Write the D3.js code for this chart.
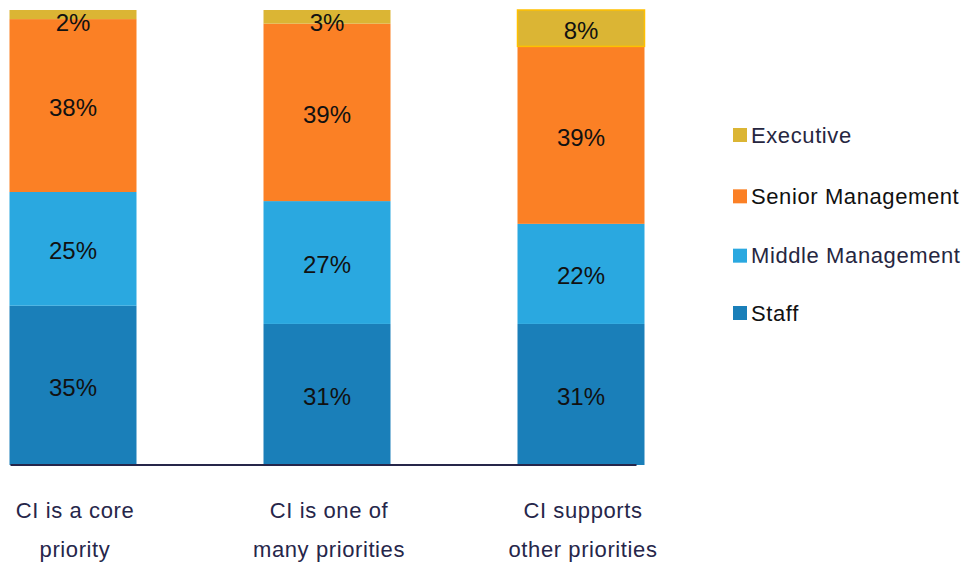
<!DOCTYPE html>
<html>
<head>
<meta charset="utf-8">
<script src="https://cdn.jsdelivr.net/npm/d3@7"></script>
<style>
  html, body { margin: 0; padding: 0; background: #ffffff; }
  svg { display: block; }
  text { font-family: Arial, "Liberation Sans", sans-serif; }
</style>
</head>
<body>
<svg id="chart" width="974" height="565"></svg>
<script>
// ---- data ----
const categories = ["CI is a core priority", "CI is one of many priorities", "CI supports other priorities"];
const categoryLines = [["CI is a core", "priority"], ["CI is one of", "many priorities"], ["CI supports", "other priorities"]];
const seriesNames = ["Staff", "Middle Management", "Senior Management", "Executive"];
const staff = [35, 31, 31];
const middleManagement = [25, 27, 22];
const seniorManagement = [38, 39, 39];
const executive = [2, 3, 8];
const legendOrder = ["Executive", "Senior Management", "Middle Management", "Staff"];

const colors = {
  "Staff": "#1a7fb9",
  "Middle Management": "#2aa8e0",
  "Senior Management": "#fb8025",
  "Executive": "#dbb534"
};
const legendTextColors = {
  "Executive": "#26263f",
  "Senior Management": "#111111",
  "Middle Management": "#26263f",
  "Staff": "#111111"
};

const seriesValues = [staff, middleManagement, seniorManagement, executive];
const rows = categories.map((c, i) => {
  const r = { category: c };
  seriesNames.forEach((s, k) => { r[s] = seriesValues[k][i]; });
  return r;
});

const svg = d3.select("#chart");

const x = d3.scaleBand()
  .domain(categories)
  .range([9.5, 9.5 + 2.5 * 254])
  .paddingInner(0.5)
  .paddingOuter(0);

const y = d3.scaleLinear().domain([0, 100]).range([465, 10]);

const stack = d3.stack().keys(seriesNames);
const stacked = stack(rows);

const g = svg.append("g");

stacked.forEach(layer => {
  const name = layer.key;
  g.selectAll(null)
    .data(layer)
    .enter()
    .append("rect")
    .attr("x", d => x(d.data.category))
    .attr("width", x.bandwidth())
    .attr("y", d => y(d[1]))
    .attr("height", d => y(d[0]) - y(d[1]))
    .attr("fill", colors[name])
    .attr("stroke", (d, i) => (name === "Executive" && i === 2) ? "#ffc000" : "none")
    .attr("stroke-width", 1.5);

  g.selectAll(null)
    .data(layer)
    .enter()
    .append("text")
    .attr("x", d => x(d.data.category) + x.bandwidth() / 2)
    .attr("y", d => Math.max((y(d[0]) + y(d[1])) / 2 + 2, y(d[1]) + 13))
    .attr("dy", "0.35em")
    .attr("text-anchor", "middle")
    .attr("font-size", 24)
    .attr("fill", "#111111")
    .text(d => (d[1] - d[0]) + "%");
});

// baseline
g.append("line")
  .attr("x1", x(categories[0]) + 1)
  .attr("x2", x(categories[2]) + x.bandwidth() - 8)
  .attr("y1", y(0))
  .attr("y2", y(0))
  .attr("stroke", "#26264a")
  .attr("stroke-width", 2);

// category labels
categories.forEach((c, i) => {
  const t = svg.append("text")
    .attr("text-anchor", "middle")
    .attr("font-size", 22)
    .attr("letter-spacing", 0.6)
    .attr("fill", "#26264a");
  categoryLines[i].forEach((line, j) => {
    t.append("tspan")
      .attr("x", x(c) + x.bandwidth() / 2 + 2)
      .attr("y", 518 + j * 39)
      .text(line);
  });
});

// legend
const legendY = d3.scalePoint().domain(legendOrder).range([135, 313]);
const lg = svg.append("g");
legendOrder.forEach(name => {
  const cy = legendY(name) + (name === "Middle Management" ? 2 : 0) + (name === "Senior Management" ? 2 : 0);
  lg.append("rect")
    .attr("x", 733)
    .attr("y", cy - 7)
    .attr("width", 14)
    .attr("height", 14)
    .attr("fill", colors[name]);
  lg.append("text")
    .attr("x", 751)
    .attr("y", cy)
    .attr("dy", "0.35em")
    .attr("font-size", 22)
    .attr("letter-spacing", 0.6)
    .attr("fill", legendTextColors[name])
    .text(name);
});
</script>
</body>
</html>
